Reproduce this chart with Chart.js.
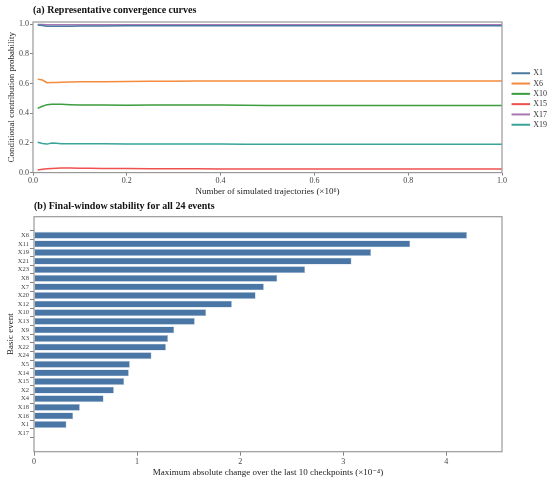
<!DOCTYPE html>
<html>
<head>
<meta charset="utf-8">
<script src="https://cdn.jsdelivr.net/npm/chart.js@4.4.1/dist/chart.umd.min.js"></script>
<style>
  html, body { margin: 0; padding: 0; background: #fff; }
  #wrap { width: 550px; height: 480px; position: relative; }
  canvas { display: block; }
</style>
</head>
<body>
<div id="wrap">
  <canvas id="top" width="550" height="198"></canvas>
  <canvas id="bottom" width="550" height="282"></canvas>
</div>
<script>
// --- data: panel (a) ---
const checkpoints = [0.01, 0.02, 0.03, 0.04, 0.05, 0.06, 0.08, 0.10, 0.12, 0.15, 0.20, 0.25, 0.30, 0.35,
  0.40, 0.45, 0.50, 0.55, 0.60, 0.65, 0.70, 0.75, 0.80, 0.85, 0.90, 0.95, 1.00];
const seriesNames = ['X1', 'X6', 'X10', 'X15', 'X17', 'X19'];
const x1 = [0.995, 0.991, 0.987, 0.986, 0.986, 0.987, 0.987, 0.988, 0.988, 0.988, 0.989, 0.989, 0.989, 0.989,
  0.989, 0.989, 0.989, 0.989, 0.989, 0.989, 0.989, 0.989, 0.989, 0.989, 0.989, 0.989, 0.989];
const x6 = [0.630, 0.624, 0.606, 0.607, 0.608, 0.609, 0.611, 0.612, 0.613, 0.613, 0.614, 0.615, 0.616, 0.617,
  0.617, 0.618, 0.618, 0.618, 0.618, 0.617, 0.617, 0.617, 0.617, 0.617, 0.617, 0.617, 0.617];
const x10 = [0.433, 0.447, 0.458, 0.461, 0.461, 0.460, 0.458, 0.456, 0.455, 0.455, 0.454, 0.455, 0.456, 0.456,
  0.455, 0.454, 0.453, 0.453, 0.453, 0.453, 0.453, 0.453, 0.453, 0.453, 0.453, 0.453, 0.453];
const x15 = [0.018, 0.022, 0.026, 0.028, 0.030, 0.031, 0.031, 0.030, 0.029, 0.028, 0.027, 0.026, 0.026, 0.026,
  0.025, 0.025, 0.025, 0.025, 0.025, 0.025, 0.025, 0.025, 0.025, 0.025, 0.025, 0.025, 0.025];
const x17 = [0.998, 0.998, 0.997, 0.997, 0.997, 0.997, 0.997, 0.997, 0.997, 0.997, 0.997, 0.997, 0.997, 0.997,
  0.997, 0.997, 0.997, 0.997, 0.997, 0.997, 0.997, 0.997, 0.997, 0.997, 0.997, 0.997, 0.997];
const x19 = [0.204, 0.196, 0.192, 0.199, 0.197, 0.195, 0.194, 0.194, 0.195, 0.194, 0.193, 0.192, 0.192, 0.192,
  0.192, 0.191, 0.191, 0.191, 0.191, 0.191, 0.191, 0.191, 0.191, 0.191, 0.191, 0.191, 0.191];
const topTicks = [0, 0.2, 0.4, 0.6, 0.8, 1.0];

// --- data: panel (b) ---
const events = ['X6', 'X11', 'X19', 'X21', 'X23', 'X8', 'X7', 'X20', 'X12', 'X10', 'X13', 'X9',
  'X3', 'X22', 'X24', 'X5', 'X14', 'X15', 'X2', 'X4', 'X18', 'X16', 'X1', 'X17'];
const maxChange = [4.20, 3.65, 3.27, 3.08, 2.63, 2.36, 2.23, 2.15, 1.92, 1.67, 1.56, 1.36,
  1.30, 1.28, 1.14, 0.93, 0.92, 0.875, 0.775, 0.675, 0.445, 0.38, 0.315, 0];
const bottomTicks = [0, 1, 2, 3, 4];

const colores = ['#4b7aa0', '#f58a3c', '#3d9c3d', '#ef5150', '#a877b4', '#3aa39a'];
const serie = [x1, x6, x10, x15, x17, x19];

Chart.defaults.font.family = "'Liberation Serif', 'DejaVu Serif', serif";
Chart.defaults.color = '#444';
Chart.defaults.animation = false;

// marco gris alrededor del área del gráfico
const marco = {
  id: 'marco',
  afterDraw(chart) {
    const a = chart.chartArea, c = chart.ctx;
    c.save();
    c.strokeStyle = '#999';
    c.lineWidth = 1.2;
    c.strokeRect(a.left, a.top, a.right - a.left, a.bottom - a.top);
    c.restore();
  }
};

const tickGrid = { drawOnChartArea: false, drawTicks: true, tickLength: 3, color: '#666', lineWidth: 0.8 };

// --- panel (a) ---
new Chart(document.getElementById('top'), {
  type: 'line',
  data: {
    datasets: seriesNames.map((n, k) => ({
      label: n,
      data: checkpoints.map((c, i) => ({ x: c, y: serie[k][i] })),
      borderColor: colores[k],
      backgroundColor: colores[k],
      borderWidth: 1.5,
      pointRadius: 0,
      tension: 0
    }))
  },
  options: {
    responsive: false,
    layout: { padding: 0 },
    plugins: {
      title: {
        display: true, text: '(a) Representative convergence curves', align: 'start', fullSize: false,
        color: '#111', font: { size: 10, weight: 'bold' }, padding: { top: 4, bottom: 6 }
      },
      legend: {
        position: 'right', align: 'center', maxWidth: 40,
        labels: { boxWidth: 17, boxHeight: 0.5, padding: 2.3, color: '#333', font: { size: 8 } }
      },
      tooltip: { enabled: false }
    },
    scales: {
      x: {
        type: 'linear', min: 0, max: 1,
        afterBuildTicks: s => { s.ticks = topTicks.map(v => ({ value: v })); },
        afterFit: s => { s.height = 25.4; },
        ticks: { font: { size: 8 }, padding: 1, maxRotation: 0, callback: v => v.toFixed(1) },
        grid: tickGrid,
        border: { display: false },
        title: { display: true, text: 'Number of simulated trajectories (×10⁶)', color: '#222',
          font: { size: 9 }, padding: { top: 0, bottom: 0.6 } }
      },
      y: {
        min: 0, max: 1.015,
        afterBuildTicks: s => { s.ticks = topTicks.map(v => ({ value: v })); },
        afterFit: s => { s.width = 33; },
        ticks: { font: { size: 8 }, padding: 1, callback: v => v.toFixed(1) },
        grid: tickGrid,
        border: { display: false },
        title: { display: true, text: 'Conditional contribution probability', color: '#222',
          font: { size: 9 }, padding: { top: 6, bottom: 0 } }
      },
      derecha: {
        type: 'linear', position: 'right', display: true,
        afterFit: s => { s.width = 8; },
        ticks: { display: false }, grid: { display: false }, border: { display: false }
      }
    }
  },
  plugins: [marco]
});

// --- panel (b) ---
new Chart(document.getElementById('bottom'), {
  type: 'bar',
  data: {
    datasets: [{
      label: 'Max change',
      data: events.map((e, i) => ({ x: maxChange[i], y: i })),
      backgroundColor: '#4a76a6',
      borderColor: '#a9bfd6',
      borderWidth: 0.6,
      borderSkipped: false,
      barPercentage: 0.8,
      categoryPercentage: 1
    }]
  },
  options: {
    responsive: false,
    indexAxis: 'y',
    layout: { padding: { right: 48 } },
    plugins: {
      title: {
        display: true, text: '(b) Final-window stability for all 24 events', align: 'start', fullSize: false,
        color: '#111', font: { size: 10, weight: 'bold' }, padding: { top: 2.7, bottom: 4 }
      },
      legend: { display: false },
      tooltip: { enabled: false }
    },
    scales: {
      x: {
        type: 'linear', min: 0, max: 4.54,
        afterBuildTicks: s => { s.ticks = bottomTicks.map(v => ({ value: v })); },
        afterFit: s => { s.height = 28.3; },
        ticks: { font: { size: 8 }, padding: 1, maxRotation: 0 },
        grid: Object.assign({}, tickGrid, { tickLength: 4 }),
        border: { display: false },
        title: { display: true, text: 'Maximum absolute change over the last 10 checkpoints (×10⁻⁴)', color: '#222',
          font: { size: 9 }, padding: { top: 0, bottom: 2 } }
      },
      y: {
        type: 'linear', reverse: true, min: -1.59, max: 24.59,
        afterBuildTicks: s => { s.ticks = events.map((e, i) => ({ value: i })); },
        afterFit: s => { s.width = 34; },
        ticks: { font: { size: 6.5 }, padding: 1, autoSkip: false, callback: v => events[v] },
        grid: Object.assign({}, tickGrid, { tickLength: 4 }),
        border: { display: false },
        title: { display: true, text: 'Basic event', color: '#222',
          font: { size: 9 }, padding: { top: 5, bottom: 0 } }
      }
    }
  },
  plugins: [marco]
});
</script>
</body>
</html>
